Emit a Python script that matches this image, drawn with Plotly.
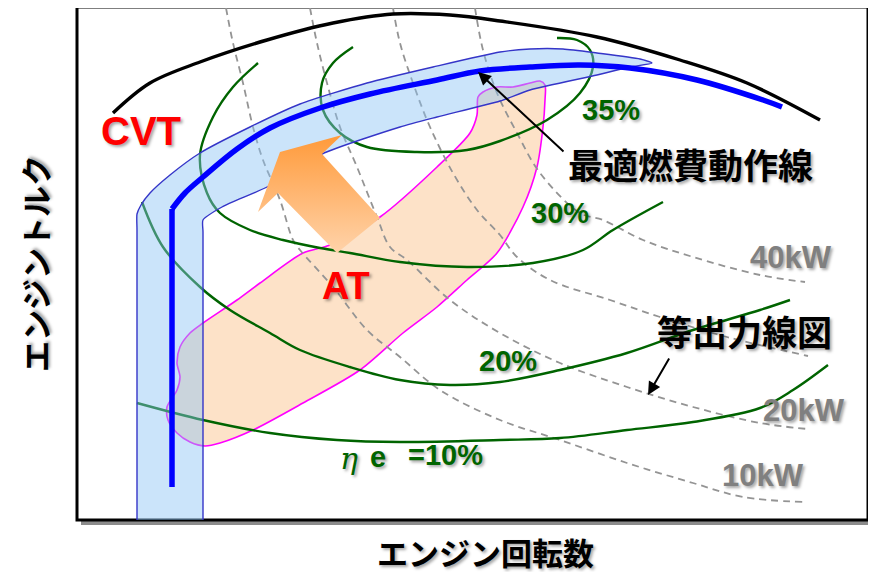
import plotly.graph_objects as go

W, H = 876, 572
PAGE_PAD = 8  # the page body keeps its default 8px margin, so the axes are shifted by it

# --- curves (pixel space, y grows downward) ---
max_torque_x = [113, 150, 200, 267, 333, 393, 450, 500, 597, 680, 747, 820]
max_torque_y = [113, 83, 62, 40, 23, 14, 15, 21, 37, 60, 83, 120]

cvt_stem_x = [172, 172]
cvt_stem_y = [487, 209]
cvt_line_x = [172, 185, 203, 237, 270, 320, 370, 437, 480, 530, 580, 630, 697, 763, 782]
cvt_line_y = [209, 193, 177, 149, 128, 108, 94, 80, 71, 67, 65, 68, 80, 100, 107]

cvt_band_x = [137, 137, 137, 141, 150, 170, 200, 250, 300, 367, 433, 500, 530, 563, 597, 640, 652,
              630, 597, 530, 500, 437, 400, 322, 267, 222, 203, 203, 203]
cvt_band_y = [520, 230, 214, 205, 193, 175, 153, 127, 104, 83, 67, 52, 49, 49, 53, 59, 63,
              67, 75, 90, 101, 117, 127, 154, 187, 207, 220, 232, 520]

at_zone_x = [478, 483, 497, 513, 530, 540, 545, 545, 543, 537, 523, 497, 467, 437, 403, 360, 303, 253,
             220, 205, 190, 177, 168, 167, 177, 180, 177, 180, 190, 203, 237, 260, 303, 330, 380, 437,
             470, 477, 478]
at_zone_y = [97, 92, 87, 87, 83, 81, 85, 100, 127, 167, 207, 253, 280, 307, 333, 370, 403, 430,
             443, 446, 442, 433, 420, 407, 390, 377, 363, 347, 333, 323, 300, 283, 253, 245, 217, 167,
             133, 115, 97]

shift_arrow_x = [280, 342, 322, 380, 337, 278, 258, 280]
shift_arrow_y = [152, 135, 154, 218, 253, 193, 212, 152]

eff35_x = [353, 333, 322, 323, 340, 367, 417, 467, 500, 547, 580, 593, 590, 577, 557]
eff35_y = [47, 63, 83, 110, 133, 147, 152, 150, 141, 120, 93, 67, 50, 40, 38]
eff30_x = [258, 233, 213, 200, 207, 220, 250, 283, 320, 350, 400, 467, 533, 583, 613, 663]
eff30_y = [63, 87, 117, 155, 193, 213, 230, 240, 248, 253, 262, 267, 263, 250, 230, 202]
eff20_x = [142, 163, 200, 230, 270, 300, 350, 400, 450, 500, 560, 627, 693, 760, 790]
eff20_y = [202, 247, 287, 310, 333, 350, 367, 380, 385, 382, 370, 353, 330, 310, 300]
eff10_x = [137, 203, 270, 337, 400, 500, 560, 627, 693, 760, 793, 828]
eff10_y = [403, 420, 433, 440, 442, 440, 438, 430, 422, 408, 390, 365]

pw10_x = [226, 233, 243, 253, 263, 280, 293, 300, 333, 367, 400, 440, 500, 560, 627, 693, 743, 803]
pw10_y = [8, 43, 83, 127, 160, 200, 240, 250, 287, 330, 357, 390, 420, 440, 463, 483, 497, 502]
pw20_x = [310, 317, 327, 340, 357, 377, 390, 407, 450, 500, 560, 627, 693, 760, 808]
pw20_y = [8, 43, 83, 127, 167, 217, 247, 260, 300, 333, 363, 387, 407, 423, 429]
pw30_x = [393, 400, 413, 430, 453, 477, 500, 517, 550, 610, 660, 727, 808]
pw30_y = [8, 43, 83, 127, 173, 210, 235, 257, 280, 300, 317, 337, 356]
pw40_x = [475, 483, 497, 517, 540, 580, 603, 643, 693, 760, 805]
pw40_y = [8, 50, 93, 133, 173, 213, 220, 240, 257, 275, 282]

# labels: (text, x, y)
eff_labels = [("35%", 611, 110), ("30%", 560, 213), ("20%", 508, 361), ("=10%", 445, 455)]
power_labels = [("40kW", 791, 257), ("20kW", 804, 410), ("10kW", 763, 475)]

GREEN = "#006400"
GREY_DASH = "#949494"
JP = "Noto Sans CJK JP"
NUM = "Liberation Sans, Arial"
SHADOW = "2px 2px 3px rgba(0,0,0,0.35)"

fig = go.Figure()


def line(x, y, color, width, dash=None, shape="spline"):
    fig.add_trace(go.Scatter(x=x, y=y, mode="lines", hoverinfo="skip",
                             line=dict(color=color, width=width, dash=dash, shape=shape, smoothing=1.0)))


# AT region
fig.add_trace(go.Scatter(x=at_zone_x, y=at_zone_y, mode="lines", fill="toself", hoverinfo="skip",
                         fillcolor="#FDE2C8", line=dict(color="#FF00FF", width=1.6, shape="spline", smoothing=0.8)))

# constant power lines
for px, py in [(pw10_x, pw10_y), (pw20_x, pw20_y), (pw30_x, pw30_y), (pw40_x, pw40_y)]:
    line(px, py, GREY_DASH, 1.8, dash="7px,5px")

# efficiency lines
for ex, ey in [(eff35_x, eff35_y), (eff30_x, eff30_y), (eff20_x, eff20_y), (eff10_x, eff10_y)]:
    line(ex, ey, GREEN, 2.4)

# CVT band
fig.add_trace(go.Scatter(x=cvt_band_x, y=cvt_band_y, mode="lines", fill="toself", hoverinfo="skip",
                         fillcolor="rgba(140,195,245,0.45)",
                         line=dict(color="#3535C8", width=1.4, shape="spline", smoothing=0.6)))

line(cvt_stem_x, cvt_stem_y, "#0000FF", 5.5, shape="linear")
line(cvt_line_x, cvt_line_y, "#0000FF", 5.5)
line(max_torque_x, max_torque_y, "black", 3.4)

# shift arrow
fig.add_trace(go.Scatter(x=shift_arrow_x, y=shift_arrow_y, mode="lines", fill="toself", hoverinfo="skip",
                         line=dict(width=0, color="rgba(0,0,0,0)"), fillcolor="#FFB070",
                         fillgradient=dict(type="vertical", start=135, stop=253,
                                           colorscale=[[0, "#FF9A3A"], [1, "#FFD3AA"]])))

ann = []


def label(text, x, y, size, color, family, bold=True, angle=0, italic=False):
    t = "<b>%s</b>" % text if bold else text
    if italic:
        t = "<i>%s</i>" % t
    ann.append(dict(text=t, x=x, y=y, xref="x", yref="y", showarrow=False, textangle=angle,
                    font=dict(size=size, color=color, family=family, shadow=SHADOW)))


for t, x, y in eff_labels:
    label(t, x, y, 29, GREEN, NUM)
for t, x, y in power_labels:
    label(t, x, y, 31, "#808080", NUM)
label("η", 349, 458, 30, GREEN, "DejaVu Serif", bold=False, italic=True)
label("e", 378, 457, 29, GREEN, NUM)
label("CVT", 141, 131, 40, "#FF0000", "Liberation Sans")
label("AT", 346, 286, 38, "#FF0000", "Liberation Sans")
label("最適燃費動作線", 690, 163, 35, "black", JP)
label("等出力線図", 744, 330, 35, "black", JP)
label("エンジン回転数", 485, 551, 31, "black", JP)
label("エンジントルク", 34, 264, 31, "black", JP, angle=-90)

# pointer arrows
for (tx, ty, sx, sy) in [(478, 72, 565, 153), (648, 395, 670, 357)]:
    ann.append(dict(x=tx, y=ty, ax=sx, ay=sy, xref="x", yref="y", axref="x", ayref="y",
                    text="", showarrow=True, arrowhead=2, arrowsize=1.3, arrowwidth=2, arrowcolor="black"))

shapes = [
    dict(type="rect", x0=81, y0=11, x1=873, y1=525, fillcolor="#8c8c8c", line=dict(width=0), layer="below"),
    dict(type="rect", x0=77, y0=7, x1=868, y1=520, fillcolor="white", line=dict(color="black", width=3),
         layer="below"),
]

fig.update_layout(
    width=W, height=H, margin=dict(l=0, r=0, t=0, b=0),
    paper_bgcolor="white", plot_bgcolor="white", showlegend=False,
    xaxis=dict(range=[PAGE_PAD, W + PAGE_PAD], visible=False, fixedrange=True),
    yaxis=dict(range=[H + PAGE_PAD, PAGE_PAD], visible=False, fixedrange=True),
    annotations=ann, shapes=shapes,
)

fig.write_html("out.html")
